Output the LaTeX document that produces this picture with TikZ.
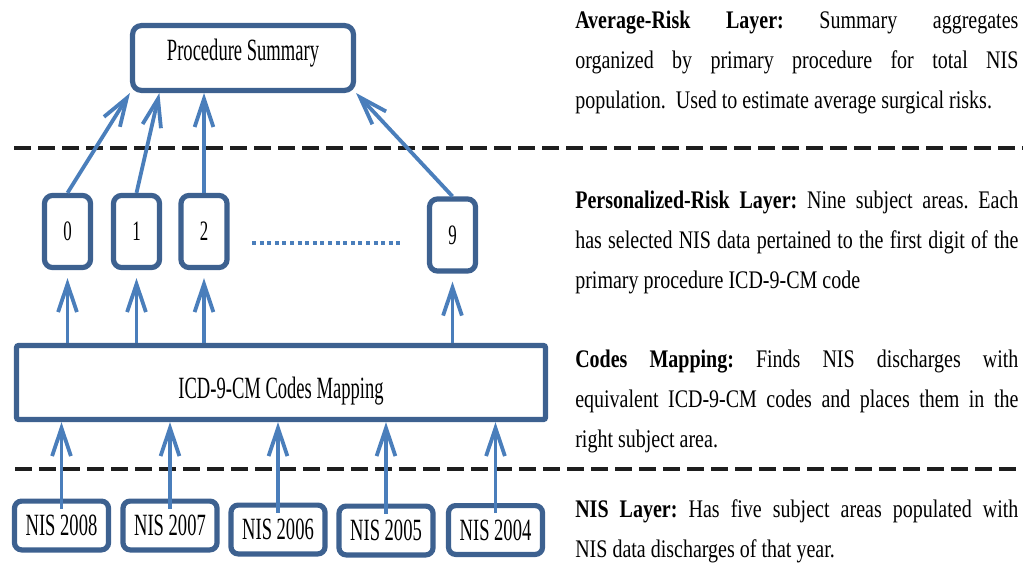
\documentclass[tikz,border=0pt]{standalone}
\usepackage{fontspec}
\setmainfont{Liberation Serif}
\newfontfamily\boxfont[FakeStretch=0.6]{Liberation Serif}
\newfontfamily\notefont[FakeStretch=0.79]{Liberation Serif}
\usetikzlibrary{arrows.meta,calc}

\definecolor{boxblue}{HTML}{3D6190}
\definecolor{arrowblue}{HTML}{4A7EBB}
\definecolor{layerline}{HTML}{1E1E1E}

\begin{document}
\begin{tikzpicture}[x=0.025cm, y=-0.025cm,
    stagebox/.style={draw=boxblue, line width=0.13cm, fill=white, rounded corners=0.22cm,
      inner sep=0pt, font=\boxfont\fontsize{22}{26}\selectfont},
    digitbox/.style={stagebox, minimum width=1.15cm, minimum height=1.8cm,
      rounded corners=0.2cm, font=\boxfont\fontsize{20}{22}\selectfont},
    yearbox/.style={stagebox, minimum width=2.35cm, minimum height=1.22cm, rounded corners=0.18cm},
    feed/.style={draw=arrowblue, line width=0.095cm, -{Straight Barb[length=0.7cm,width=0.47cm]}},
    layersep/.style={draw=layerline, line width=0.1cm, dash pattern=on 0.425cm off 0.175cm},
    ellipsisdots/.style={draw=arrowblue, line width=0.1cm, dash pattern=on 0.1cm off 0.09cm},
    note/.style={anchor=north west, inner sep=0pt, text width=11.075cm, align=justify,
      font=\notefont\fontsize{18}{28.4}\selectfont\frenchspacing}]

  \useasboundingbox (0,0) rectangle (1023,565);

  % Layer separators
  \draw[layersep] (14,148) -- (1023,148);
  \draw[layersep] (15,469) -- (1023,469);

  % Average-risk layer
  \node[stagebox, minimum width=5.52cm, minimum height=1.62cm, text height=0.5cm, text depth=0.4cm]
    (summary) at (243,58) {Procedure Summary};

  % Personalized-risk layer
  \node[digitbox] (d0) at (67.5,231.5) {0};
  \node[digitbox] (d1) at (136.5,231.5) {1};
  \node[digitbox] (d2) at (204,231.5) {2};
  \node[digitbox] (d9) at (452.5,235) {9};
  \draw[ellipsisdots] (252,243) -- (403,243);

  \draw[feed] (d0.north) -- (summary.south west);
  \draw[feed] (d1.north) -- ($(summary.south west)!0.13!(summary.south east)$);
  \draw[feed] (d2.north) -- (d2.north |- summary.south);
  \draw[feed] (d9.north) -- (summary.south east);

  % Codes mapping
  \node[stagebox, rounded corners=0.05cm, minimum width=13.22cm, minimum height=1.85cm,
    text height=0.775cm, text depth=0cm] (mapping) at (281,382.5) {ICD-9-CM Codes Mapping};

  \foreach \d in {d0,d1,d2,d9}
    \draw[feed, shorten >=0.2cm] (\d.south |- mapping.north) -- (\d.south);

  % NIS layer
  \node[yearbox] (n2008) at (61.5,525.5) {NIS 2008};
  \node[yearbox] (n2007) at (170,525.5) {NIS 2007};
  \node[yearbox] (n2006) at (278,529.5) {NIS 2006};
  \node[yearbox] (n2005) at (386,530.5) {NIS 2005};
  \node[yearbox] (n2004) at (495.5,530) {NIS 2004};

  \foreach \n in {n2008,n2007,n2006,n2005,n2004}
    \draw[feed, shorten <=-0.25cm] (\n.north) -- (\n.north |- mapping.south);

  % Layer notes
  \node[note] (avgnote) at (575,0) {\strut\textbf{Average-Risk Layer:} Summary aggregates\linebreak
    organized by primary procedure for total NIS\linebreak
    population.\ \ Used to estimate average surgical risks.};
  \node[note] (pernote) at (575,180) {\strut\textbf{Personalized-Risk Layer:} Nine subject areas. Each\linebreak
    has selected NIS data pertained to the first digit of the\linebreak
    primary procedure ICD-9-CM code};
  \node[note] (mapnote) at (575,339) {\strut\textbf{Codes Mapping:} Finds NIS discharges with\linebreak
    equivalent ICD-9-CM codes and places them in the\linebreak
    right subject area.};
  \node[note] (nisnote) at (575,489) {\strut\textbf{NIS Layer:} Has five subject areas populated with\linebreak
    NIS data discharges\ of that year.};
\end{tikzpicture}
\end{document}
